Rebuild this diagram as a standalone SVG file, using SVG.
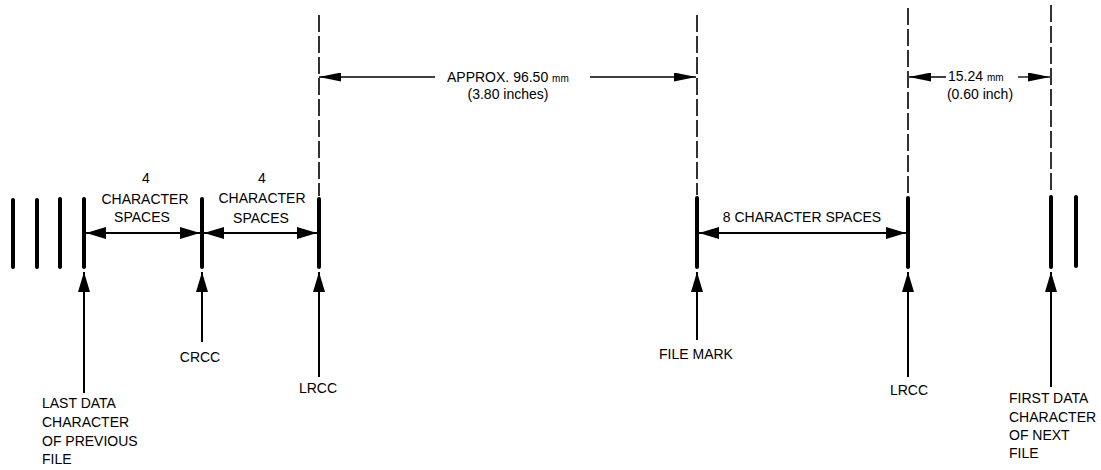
<svg xmlns="http://www.w3.org/2000/svg" width="1101" height="470" viewBox="0 0 1101 470">
<style>
.bar{stroke:#000;stroke-width:4;stroke-linecap:round}
.dash{stroke:#000;stroke-width:1.6;stroke-dasharray:17 4;fill:none}
.ln{stroke:#000;stroke-width:2;fill:none}
.dim{stroke:#000;stroke-width:2.2;fill:none}
.tdim{stroke:#000;stroke-width:1.3;fill:none}
text{font-family:"Liberation Sans",Arial,sans-serif;font-size:14px;fill:#000}
.c{text-anchor:middle}
.sm{font-size:10px}
</style>
<defs>
<marker id="ah" viewBox="0 0 20 12" refX="20" refY="6" markerWidth="20" markerHeight="12" orient="auto-start-reverse" markerUnits="userSpaceOnUse"><path d="M0,0 L20,6 L0,12 z" fill="#000"/></marker>
<marker id="ahs" viewBox="0 0 22 9" refX="22" refY="4.5" markerWidth="22" markerHeight="9" orient="auto-start-reverse" markerUnits="userSpaceOnUse"><path d="M0,0 L22,4.5 L0,9 z" fill="#000"/></marker>
</defs>

<g id="prev-data">
<line class="bar" x1="13" y1="200" x2="13" y2="267"/>
<line class="bar" x1="37" y1="200" x2="37" y2="267"/>
<line class="bar" x1="60" y1="199" x2="60" y2="267"/>
<line class="bar" x1="84" y1="199" x2="84" y2="267"/>
<text x="42" y="408">LAST DATA</text>
<text x="42" y="427">CHARACTER</text>
<text x="42" y="446">OF PREVIOUS</text>
<text x="42" y="464">FILE</text>
</g>

<g id="crcc">
<line class="bar" x1="202" y1="199" x2="202" y2="267"/>
<text class="c" x="200" y="362">CRCC</text>
</g>

<g id="lrcc1">
<line class="dash" x1="319" y1="15" x2="319" y2="196"/>
<line class="bar" x1="319" y1="199" x2="319" y2="267"/>
<text class="c" x="318" y="393">LRCC</text>
</g>

<g id="file-mark">
<line class="dash" x1="697" y1="15" x2="697" y2="195"/>
<line class="bar" x1="697" y1="198" x2="697" y2="267"/>
<text class="c" x="696" y="359">FILE MARK</text>
</g>

<g id="lrcc2">
<line class="dash" x1="908" y1="8" x2="908" y2="195"/>
<line class="bar" x1="908" y1="198" x2="908" y2="267"/>
<text class="c" x="909" y="395">LRCC</text>
</g>

<g id="next-data">
<line class="dash" x1="1051" y1="5" x2="1051" y2="194"/>
<line class="bar" x1="1051" y1="197" x2="1051" y2="267"/>
<line class="bar" x1="1076" y1="197" x2="1076" y2="266"/>
<text x="1009" y="403">FIRST DATA</text>
<text x="1009" y="422">CHARACTER</text>
<text x="1009" y="440">OF NEXT</text>
<text x="1009" y="458">FILE</text>
</g>

<g id="dim-labels">
<text class="c" x="146" y="183">4</text>
<text class="c" x="145" y="204">CHARACTER</text>
<text class="c" x="142" y="222">SPACES</text>
<text class="c" x="262" y="183">4</text>
<text class="c" x="262" y="203">CHARACTER</text>
<text class="c" x="261" y="223">SPACES</text>
<text class="c" x="802" y="222">8 CHARACTER SPACES</text>
<text x="447" y="82">APPROX. 96.50 <tspan class="sm">mm</tspan></text>
<text class="c" x="508" y="99">(3.80 inches)</text>
<text x="948" y="81">15.24 <tspan class="sm">mm</tspan></text>
<text class="c" x="980" y="99">(0.60 inch)</text>
</g>

<g id="connectors">
<line class="dim" x1="86" y1="233" x2="200" y2="233" marker-start="url(#ah)" marker-end="url(#ah)"/>
<line class="dim" x1="204" y1="233" x2="317" y2="233" marker-start="url(#ah)" marker-end="url(#ah)"/>
<line class="dim" x1="699" y1="233" x2="906" y2="233" marker-start="url(#ah)" marker-end="url(#ah)"/>
<line class="tdim" x1="319" y1="77" x2="435" y2="77" marker-start="url(#ahs)"/>
<line class="tdim" x1="590" y1="77" x2="696" y2="77" marker-end="url(#ahs)"/>
<line class="tdim" x1="909" y1="77" x2="946" y2="77" marker-start="url(#ahs)"/>
<line class="tdim" x1="1018" y1="77" x2="1050" y2="77" marker-end="url(#ahs)"/>
<line class="ln" x1="84" y1="393" x2="84" y2="272" marker-end="url(#ah)"/>
<line class="ln" x1="202" y1="342" x2="202" y2="272" marker-end="url(#ah)"/>
<line class="ln" x1="319" y1="377" x2="319" y2="272" marker-end="url(#ah)"/>
<line class="ln" x1="697" y1="340" x2="697" y2="272" marker-end="url(#ah)"/>
<line class="ln" x1="908" y1="377" x2="908" y2="272" marker-end="url(#ah)"/>
<line class="ln" x1="1051" y1="387" x2="1051" y2="272" marker-end="url(#ah)"/>
</g>
</svg>
